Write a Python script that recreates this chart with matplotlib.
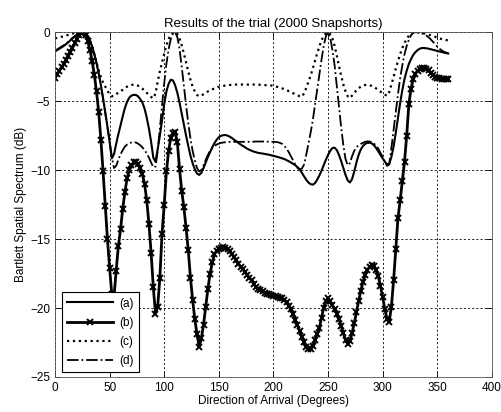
import numpy as np
import matplotlib
matplotlib.use('Agg')
import matplotlib.pyplot as plt

plt.rcParams['font.family'] = ['Liberation Sans', 'DejaVu Sans']
plt.rcParams['font.size'] = 8.5

# direction of arrival, every 2 degrees
doa = np.arange(0, 361, 2)

# (a) solid
spec_a = [-1.40, -1.30, -1.20, -1.10, -1.00, -0.88, -0.75, -0.60, -0.45, -0.32,
          -0.20, -0.10, -0.03, 0.00, -0.08, -0.30, -0.62, -1.05, -1.60, -2.25,
          -3.00, -3.85, -4.80, -5.80, -6.85, -7.95, -9.15, -8.85, -8.10, -7.40,
          -6.75, -6.10, -5.50, -5.05, -4.75, -4.60, -4.55, -4.55, -4.65, -4.85,
          -5.10, -5.55, -6.20, -7.00, -7.95, -9.10, -9.40, -8.50, -7.50, -6.40,
          -5.20, -4.30, -3.75, -3.45, -3.50, -3.85, -4.40, -5.10, -5.90, -6.70,
          -7.50, -8.25, -8.95, -9.50, -9.95, -10.25, -10.35, -10.20, -9.85, -9.45,
          -9.05, -8.70, -8.35, -8.05, -7.80, -7.62, -7.52, -7.47, -7.46, -7.50,
          -7.58, -7.68, -7.80, -7.92, -8.04, -8.15, -8.25, -8.35, -8.45, -8.53,
          -8.60, -8.66, -8.71, -8.75, -8.78, -8.80, -8.83, -8.86, -8.89, -8.93,
          -8.97, -9.01, -9.05, -9.10, -9.15, -9.20, -9.28, -9.36, -9.45, -9.55,
          -9.65, -9.78, -9.95, -10.20, -10.45, -10.70, -10.90, -11.02, -11.06, -10.95,
          -10.70, -10.40, -10.05, -9.65, -9.25, -8.90, -8.60, -8.40, -8.38, -8.55,
          -8.90, -9.35, -9.85, -10.35, -10.75, -10.90, -10.65, -10.10, -9.45, -8.90,
          -8.50, -8.25, -8.10, -8.03, -8.02, -8.06, -8.20, -8.40, -8.65, -8.90,
          -9.15, -9.40, -9.58, -9.55, -9.05, -8.30, -7.30, -6.20, -5.15, -4.20,
          -3.40, -2.80, -2.30, -1.95, -1.65, -1.45, -1.30, -1.20, -1.15, -1.15,
          -1.17, -1.20, -1.24, -1.28, -1.32, -1.36, -1.40, -1.44, -1.48, -1.52,
          -1.55]

# (b) solid with markers
spec_b = [-3.30, -3.05, -2.80, -2.55, -2.30, -2.03, -1.75, -1.45, -1.12, -0.80,
          -0.48, -0.20, -0.03, 0.00, -0.20, -0.65, -1.30, -2.10, -3.10, -4.30,
          -5.80, -7.80, -10.10, -12.60, -15.00, -17.10, -19.00, -19.20, -17.30, -15.50,
          -14.30, -12.80, -11.60, -10.60, -10.00, -9.65, -9.45, -9.42, -9.55, -9.85,
          -10.30, -11.00, -12.20, -13.90, -16.00, -18.50, -20.40, -19.90, -17.80, -14.60,
          -12.50, -10.10, -8.60, -7.70, -7.30, -7.25, -8.00, -9.90, -11.50, -12.70,
          -14.20, -15.80, -17.80, -19.40, -20.80, -21.90, -22.80, -22.20, -21.20, -19.90,
          -18.60, -17.50, -16.70, -16.10, -15.85, -15.70, -15.62, -15.60, -15.65, -15.75,
          -15.90, -16.10, -16.30, -16.55, -16.80, -17.00, -17.20, -17.40, -17.60, -17.80,
          -18.00, -18.25, -18.45, -18.60, -18.72, -18.80, -18.88, -18.95, -19.00, -19.05,
          -19.10, -19.15, -19.20, -19.25, -19.30, -19.40, -19.60, -19.85, -20.10, -20.45,
          -20.85, -21.25, -21.65, -22.10, -22.50, -22.80, -23.00, -23.00, -22.75, -22.35,
          -21.90, -21.45, -20.70, -20.00, -19.50, -19.30, -19.50, -19.80, -20.10, -20.40,
          -20.80, -21.30, -21.80, -22.30, -22.60, -22.40, -21.80, -21.10, -20.30, -19.50,
          -18.75, -18.10, -17.60, -17.25, -17.00, -16.90, -16.95, -17.25, -17.70, -18.40,
          -19.20, -20.10, -20.80, -21.00, -19.90, -18.00, -15.70, -13.50, -12.20, -10.80,
          -9.40, -7.50, -5.20, -4.10, -3.40, -3.00, -2.80, -2.68, -2.62, -2.60,
          -2.65, -2.78, -2.95, -3.10, -3.22, -3.30, -3.35, -3.38, -3.40, -3.40,
          -3.40]

# (c) dotted
spec_c = [-0.45, -0.42, -0.38, -0.34, -0.30, -0.25, -0.20, -0.15, -0.10, -0.06,
          -0.03, -0.01, 0.00, 0.00, -0.05, -0.25, -0.60, -1.05, -1.60, -2.20,
          -2.75, -3.25, -3.65, -3.95, -4.25, -4.50, -4.65, -4.62, -4.50, -4.38,
          -4.28, -4.18, -4.05, -3.95, -3.88, -3.83, -3.80, -3.82, -3.88, -3.98,
          -4.10, -4.25, -4.40, -4.55, -4.70, -4.80, -4.45, -3.60, -2.85, -2.20,
          -1.55, -0.95, -0.50, -0.20, -0.05, 0.00, -0.15, -0.45, -0.95, -1.55,
          -2.20, -2.85, -3.45, -3.95, -4.30, -4.55, -4.65, -4.60, -4.50, -4.40,
          -4.30, -4.22, -4.15, -4.08, -4.02, -3.97, -3.93, -3.90, -3.87, -3.85,
          -3.83, -3.82, -3.81, -3.80, -3.80, -3.80, -3.80, -3.80, -3.80, -3.80,
          -3.80, -3.80, -3.80, -3.81, -3.82, -3.83, -3.84, -3.85, -3.86, -3.87,
          -3.90, -3.94, -3.98, -4.03, -4.08, -4.14, -4.20, -4.28, -4.35, -4.43,
          -4.50, -4.58, -4.65, -4.68, -4.45, -4.05, -3.60, -3.15, -2.65, -2.10,
          -1.55, -1.05, -0.60, -0.28, -0.08, 0.00, -0.15, -0.45, -1.00, -1.70,
          -2.45, -3.15, -3.80, -4.30, -4.65, -4.78, -4.60, -4.40, -4.22, -4.07,
          -3.95, -3.87, -3.83, -3.82, -3.84, -3.90, -3.98, -4.08, -4.20, -4.32,
          -4.43, -4.53, -4.62, -4.35, -3.80, -3.25, -2.65, -2.10, -1.60, -1.15,
          -0.80, -0.50, -0.25, -0.10, -0.03, 0.00, -0.01, -0.03, -0.06, -0.09,
          -0.13, -0.18, -0.23, -0.28, -0.34, -0.40, -0.45, -0.50, -0.54, -0.57,
          -0.60]

# (d) dash-dot
spec_d = [-1.35, -1.25, -1.15, -1.05, -0.95, -0.83, -0.70, -0.56, -0.42, -0.30,
          -0.18, -0.09, -0.02, 0.00, -0.08, -0.30, -0.62, -1.05, -1.60, -2.25,
          -3.00, -3.85, -4.80, -5.80, -6.85, -7.95, -9.05, -9.85, -9.70, -9.25,
          -8.85, -8.55, -8.30, -8.15, -8.05, -8.00, -7.98, -8.00, -8.08, -8.20,
          -8.35, -8.55, -8.80, -9.10, -9.45, -9.80, -9.75, -8.60, -7.00, -5.30,
          -3.70, -2.30, -1.25, -0.50, -0.10, 0.00, -0.35, -1.20, -2.50, -3.90,
          -5.30, -6.60, -7.70, -8.60, -9.30, -9.85, -10.10, -10.00, -9.65, -9.25,
          -8.90, -8.60, -8.40, -8.25, -8.15, -8.08, -8.03, -8.00, -7.98, -7.96,
          -7.95, -7.95, -7.95, -7.95, -7.95, -7.95, -7.95, -7.95, -7.95, -7.95,
          -7.95, -7.94, -7.93, -7.93, -7.93, -7.93, -7.93, -7.94, -7.94, -7.95,
          -7.95, -7.96, -7.98, -8.03, -8.10, -8.25, -8.45, -8.70, -9.00, -9.30,
          -9.60, -9.85, -9.95, -9.90, -9.60, -8.90, -8.10, -7.30, -6.40, -5.30,
          -4.20, -3.10, -2.00, -1.00, -0.30, 0.00, -0.40, -1.30, -2.40, -3.90,
          -5.40, -6.90, -8.20, -9.20, -9.65, -9.50, -9.00, -8.60, -8.35, -8.20,
          -8.10, -8.02, -7.95, -7.92, -7.93, -7.98, -8.08, -8.22, -8.45, -8.75,
          -9.05, -9.40, -9.70, -9.60, -8.40, -7.10, -5.80, -4.50, -3.35, -2.40,
          -1.60, -1.00, -0.55, -0.22, -0.05, 0.00, -0.02, -0.05, -0.09, -0.15,
          -0.25, -0.37, -0.52, -0.70, -0.88, -1.05, -1.20, -1.32, -1.42, -1.48,
          -1.52]

labels = ['(a)', '(b)', '(c)', '(d)']

fig = plt.figure(figsize=(5.01, 4.12), dpi=100)
ax = fig.add_axes([0.1098, 0.085, 0.872, 0.837])

ax.plot(doa, spec_a, '-', color='k', lw=1.5, label=labels[0])
ax.plot(doa, spec_b, '-', color='k', lw=2.0, marker='x', ms=4, mew=1.4,
        label=labels[1])
ax.plot(doa, spec_c, ':', color='k', lw=1.6, label=labels[2])
ax.plot(doa, spec_d, '-.', color='k', lw=1.3, label=labels[3])

ax.set_xlim(0, 400)
ax.set_ylim(-25, 0)
ax.set_xticks(np.arange(0, 401, 50))
ax.set_yticks(np.arange(-25, 1, 5))
ax.grid(True, color='k', linestyle=(0, (2.5, 2.5)), linewidth=0.6)
ax.tick_params(direction='in', top=True, right=True, length=4, width=0.6,
               labelsize=8.5)
for s in ax.spines.values():
    s.set_linewidth(0.6)
    s.set_color('#555555')

ax.set_title('Results of the trial (2000 Snapshorts)', fontsize=9.5, pad=4)
ax.set_xlabel('Direction of Arrival (Degrees)', fontsize=8.5, labelpad=1)
ax.set_ylabel('Bartlett Spatial Spectrum (dB)', fontsize=8.5, labelpad=2)

leg = ax.legend(loc='lower left', bbox_to_anchor=(0.016, 0.014),
                fancybox=False, framealpha=1, edgecolor='k',
                handlelength=3.9, handletextpad=0.5, borderpad=0.45,
                labelspacing=0.6, fontsize=8.5, borderaxespad=0)
leg.get_frame().set_linewidth(0.8)

fig.savefig('out.png', dpi=100)
